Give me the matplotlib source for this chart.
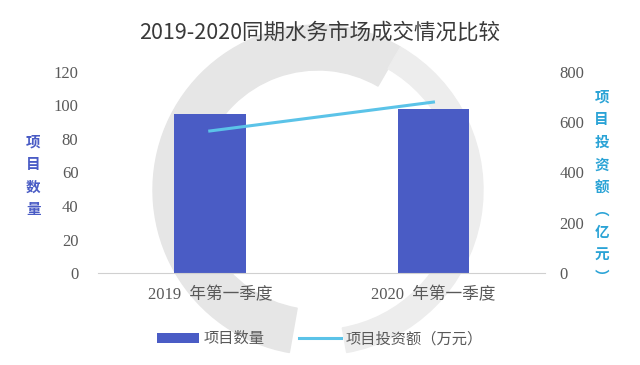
import matplotlib
matplotlib.use('Agg')
import matplotlib.pyplot as plt
import numpy as np
from matplotlib.patches import Wedge

plt.rcParams['font.family'] = ['Liberation Serif', 'Noto Sans CJK SC']

categories = ['2019  年第一季度', '2020  年第一季度']
project_count = [95, 98]
investment = [565, 680]

bar_col = '#4a5cc5'
line_col = '#5bc3e8'
txt_col = '#595959'

fig = plt.figure(figsize=(6.4, 3.65), dpi=100)
ax = fig.add_axes([0.153, 0.252, 0.699, 0.551])

# faint watermark ring behind the chart
bg = fig.add_axes([0, 0, 1, 1], zorder=-1)
bg.set_xlim(0, 640); bg.set_ylim(365, 0); bg.axis('off')
bg.add_patch(Wedge((318, 190), 165, 100, 300, width=45, color='#e6e6e6'))
bg.add_patch(Wedge((318, 190), 165, 300, 80, width=25, color='#ededed'))

x = np.arange(len(categories))
ax.bar(x, project_count, width=0.32, color=bar_col, label='项目数量', zorder=2)
ax.set_xlim(-0.5, 1.5)
ax.set_ylim(0, 120)
ax.set_yticks(range(0, 121, 20))
ax.set_xticks(x)
ax.set_xticklabels(categories, fontsize=12, color=txt_col)
ax.tick_params(axis='y', length=0, labelsize=12, labelcolor=txt_col, pad=14)
ax.tick_params(axis='x', length=0, pad=10)
for s in ['top', 'right', 'left']:
    ax.spines[s].set_visible(False)
ax.spines['bottom'].set_color('#d0d0d0')
ax.patch.set_alpha(0)

ax2 = ax.twinx()
ax2.plot(x, investment, color=line_col, lw=2.2, label='项目投资额（万元）', zorder=3)
ax2.set_ylim(0, 800)
ax2.set_yticks(range(0, 801, 200))
ax2.tick_params(axis='y', length=0, labelsize=12, labelcolor=txt_col, pad=10)
for s in ['top', 'right', 'left', 'bottom']:
    ax2.spines[s].set_visible(False)

fig.text(0.5, 0.91, '2019-2020同期水务市场成交情况比较', ha='center', va='center',
         fontsize=15.5, color='#3a3a3a', family=['Noto Sans CJK SC'])
fig.text(0.052, 0.52, '项\n目\n数\n量', ha='center', va='center', fontsize=10.5,
         color=bar_col, family=['Noto Sans CJK SC'], linespacing=1.5, weight='bold')
fig.text(0.94, 0.488, '项\n目\n投\n资\n额\n︵\n亿\n元\n︶', ha='center', va='center',
         fontsize=10.5, color='#2aa3d6', family=['Noto Sans CJK SC'], linespacing=1.5, weight='bold')

h1, l1 = ax.get_legend_handles_labels()
h2, l2 = ax2.get_legend_handles_labels()
fig.legend(h1 + h2, l1 + l2, loc='center', bbox_to_anchor=(0.5, 0.072), ncol=2,
           frameon=False, prop={'family': 'Noto Sans CJK SC', 'size': 11},
           labelcolor=txt_col, handlelength=2.8, columnspacing=2.2, handletextpad=0.3)

plt.savefig('out.png', dpi=100)
